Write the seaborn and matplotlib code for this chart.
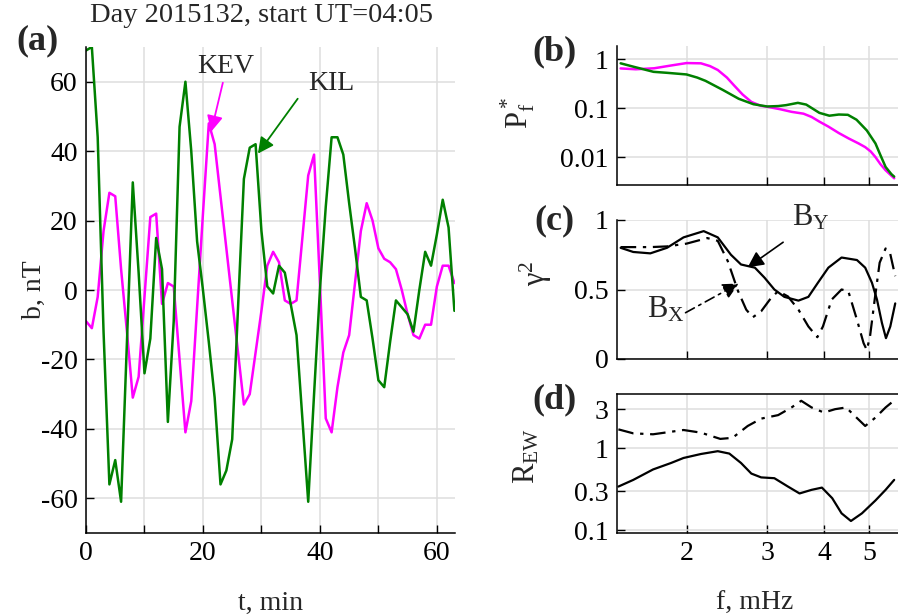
import numpy as np
import pandas as pd
import matplotlib
matplotlib.use("Agg")
import matplotlib.pyplot as plt
import seaborn as sns
from matplotlib.ticker import NullLocator

# ---- panel (a): time series, 1-min samples ----
t_min = list(range(64))
kev = [-9, -11, -2, 17, 28, 27, 6, -12, -31, -25, -2, 21, 22, -4, 2, 1,
       -20, -41, -32, -5, 22, 48, 42, 27, 12, -3, -18, -33, -30, -18, -6, 7,
       11, 8, -3, -4, -3, 15, 33, 39, 2, -37, -41, -28, -18, -13, 2, 17,
       25, 20, 12, 9, 8, 6, 0, -7, -13, -14, -10, -10, 1, 7, 7, 2]
kil = [69, 70, 44, -12, -56, -49, -61, -15, 31, 5, -24, -14, 15, 6, -38, -9,
       47, 60, 40, 14, 0, -15, -31, -56, -52, -43, -5, 32, 41, 42, 17, 1,
       -1, 7, 5, -4, -13, -37, -61, -30, 0, 24, 44, 44, 39, 25, 12, -2,
       -3, -14, -26, -28, -15, -3, -5, -7, -12, 0, 11, 7, 16, 26, 18, -6]

# ---- panel (b): normalised spectra ----
f_kil = [1.436, 1.531, 1.694, 1.813, 2.0, 2.11, 2.2, 2.4, 2.6, 2.8, 3.0, 3.17,
         3.3, 3.5, 3.65, 3.9, 4.1, 4.3, 4.5, 4.7, 4.95, 5.17, 5.3, 5.44, 5.6,
         5.68]
p_kil = [0.82, 0.70, 0.55, 0.525, 0.486, 0.42, 0.36, 0.235, 0.155, 0.12, 0.108,
         0.11, 0.115, 0.128, 0.118, 0.08, 0.07, 0.074, 0.073, 0.058, 0.035,
         0.019, 0.011, 0.0063, 0.0045, 0.0040]
f_kev = [1.436, 1.55, 1.7, 1.85, 2.0, 2.15, 2.25, 2.34, 2.45, 2.54, 2.65, 2.77,
         2.9, 3.01, 3.2, 3.39, 3.6, 3.75, 3.9, 4.08, 4.3, 4.52, 4.75, 4.91,
         5.05, 5.17, 5.3, 5.44, 5.68]
p_kev = [0.645, 0.62, 0.65, 0.74, 0.83, 0.82, 0.72, 0.60, 0.42, 0.29, 0.19,
         0.134, 0.112, 0.106, 0.095, 0.084, 0.077, 0.066, 0.053, 0.042, 0.031,
         0.024, 0.019, 0.016, 0.013, 0.010, 0.0072, 0.0054, 0.0037]

# ---- panel (c): coherence ----
f_by = [1.436, 1.53, 1.667, 1.813, 1.97, 2.18, 2.34, 2.50, 2.63, 2.82, 2.96,
        3.11, 3.27, 3.51, 3.69, 3.87, 4.08, 4.36, 4.71, 4.91, 5.08, 5.21,
        5.34, 5.45, 5.57, 5.71]
coh_by = [0.80, 0.77, 0.76, 0.80, 0.875, 0.92, 0.875, 0.75, 0.68, 0.657,
          0.585, 0.50, 0.447, 0.42, 0.447, 0.548, 0.657, 0.73, 0.712, 0.657,
          0.548, 0.427, 0.26, 0.15, 0.234, 0.40]
f_bx = [1.436, 1.667, 1.813, 2.0, 2.22, 2.34, 2.46, 2.59, 2.70, 2.79, 2.91,
        3.06, 3.17, 3.33, 3.51, 3.69, 3.86, 3.97, 4.15, 4.36, 4.51, 4.71,
        4.87, 4.95, 5.03, 5.15, 5.28, 5.44, 5.56, 5.71]
coh_bx = [0.805, 0.805, 0.81, 0.83, 0.87, 0.85, 0.705, 0.49, 0.355, 0.30,
          0.343, 0.44, 0.488, 0.45, 0.355, 0.234, 0.157, 0.234, 0.428, 0.50,
          0.488, 0.283, 0.114, 0.065, 0.162, 0.428, 0.693, 0.795, 0.766, 0.596]

# ---- panel (d): E/W amplitude ratio ----
f_rx = [1.42, 1.53, 1.69, 1.97, 2.15, 2.37, 2.52, 2.72, 2.91, 3.17, 3.39,
        3.56, 3.75, 3.99, 4.22, 4.46, 4.66, 4.91, 5.17, 5.44, 5.73]
r_x = [1.70, 1.52, 1.48, 1.67, 1.55, 1.30, 1.34, 1.87, 2.3, 2.54, 3.15, 3.8,
       3.15, 2.73, 3.0, 3.15, 2.48, 1.87, 2.37, 3.15, 4.0]
f_ry = [1.42, 1.53, 1.69, 1.85, 1.97, 2.15, 2.34, 2.48, 2.63, 2.77, 2.91, 3.11,
        3.33, 3.53, 3.75, 3.95, 4.16, 4.36, 4.57, 4.83, 5.17, 5.44, 5.68]
r_y = [0.34, 0.41, 0.55, 0.66, 0.76, 0.85, 0.92, 0.86, 0.66, 0.49, 0.44, 0.43,
       0.34, 0.28, 0.31, 0.33, 0.245, 0.16, 0.129, 0.16, 0.23, 0.31, 0.41]

sns.set_theme(style="ticks")
plt.rcParams["font.family"] = ["Liberation Serif", "DejaVu Serif"]
plt.rcParams["mathtext.fontset"] = "custom"
plt.rcParams["mathtext.rm"] = "Liberation Serif"
plt.rcParams["mathtext.it"] = "Liberation Serif:italic"
plt.rcParams["axes.unicode_minus"] = False

FS = 20
MAG = "#ff00ff"
GRN = "#008000"
GRID = "#dedede"
DASHDOT = (0, (7, 3, 1.5, 3))

W, H = 898, 616
fig = plt.figure(figsize=(W / 100, H / 100), dpi=100)


def px_axes(x0, y0, x1, y1):
    """axes from pixel box (left, top, right, bottom)"""
    return fig.add_axes([x0 / W, 1 - y1 / H, (x1 - x0) / W, (y1 - y0) / H])


def style(ax):
    ax.grid(True, color=GRID, linewidth=1.1)
    ax.set_axisbelow(True)
    ax.tick_params(direction="in", length=6, width=1, labelsize=FS, pad=6,
                   colors="black")
    for s in ["left", "bottom"]:
        ax.spines[s].set_linewidth(1.1)
        ax.spines[s].set_color("black")
    ax.spines["top"].set_visible(False)
    ax.spines["right"].set_visible(False)
    ax.set_facecolor("white")


# ---------------- (a) ----------------
ax = px_axes(86, 47, 455, 533)
df_a = pd.DataFrame({"t": t_min, "KEV": kev, "KIL": kil})
sns.lineplot(data=df_a, x="t", y="KEV", ax=ax, color=MAG, linewidth=1.8)
sns.lineplot(data=df_a, x="t", y="KIL", ax=ax, color=GRN, linewidth=1.8)
style(ax)
ax.set_xlim(0, 63.1)
ax.set_ylim(-70, 70)
ax.set_xticks(range(0, 61, 10))
ax.set_xticklabels(["0", "", "20", "", "40", "", "60"])
ax.set_yticks(range(-60, 61, 20))
ax.set_xlabel("t, min", fontsize=FS)
ax.set_ylabel("b, nT", fontsize=FS)
ax.yaxis.set_label_coords(-0.105, 0.5)
ax.xaxis.set_label_coords(0.5, -0.12)
ax.text(23.9, 64.3, "KEV", fontsize=FS, ha="center", va="center")
ax.annotate("", xy=(21.4, 45.6), xytext=(23.4, 59.7),
            arrowprops=dict(arrowstyle="-|>", color=MAG, lw=1.3,
                            mutation_scale=24, shrinkA=0, shrinkB=0))
ax.text(41.9, 59.4, "KIL", fontsize=FS, ha="center", va="center")
ax.annotate("", xy=(29.4, 39.3), xytext=(36.2, 55.1),
            arrowprops=dict(arrowstyle="-|>", color=GRN, lw=1.3,
                            mutation_scale=24, shrinkA=0, shrinkB=0))
fig.text(261 / W, 1 - 16 / H, "Day 2015132, start UT=04:05", fontsize=20.5,
         ha="center", va="center")
fig.text(37 / W, 1 - 41 / H, "(a)", fontsize=26, fontweight="bold",
         ha="center", va="center")

# ---------------- right column ----------------
XL = (1.41, 5.79)


def freq_axis(ax, labels):
    ax.set_xscale("log")
    ax.set_xlim(*XL)
    ax.set_xticks([2, 3, 4, 5])
    ax.set_xticklabels(["2", "3", "4", "5"] if labels else ["", "", "", ""])
    ax.xaxis.set_minor_locator(NullLocator())


# (b)
axb = px_axes(617, 46, 898, 185)
df_b1 = pd.DataFrame({"f": f_kev, "p": p_kev})
df_b2 = pd.DataFrame({"f": f_kil, "p": p_kil})
sns.lineplot(data=df_b1, x="f", y="p", ax=axb, color=MAG, linewidth=1.8)
sns.lineplot(data=df_b2, x="f", y="p", ax=axb, color=GRN, linewidth=1.8)
style(axb)
freq_axis(axb, False)
axb.set_yscale("log")
axb.set_ylim(0.0027, 1.85)
axb.set_yticks([0.01, 0.1, 1])
axb.set_yticklabels(["0.01", "0.1", "1"])
axb.yaxis.set_minor_locator(NullLocator())
axb.set_xlabel("")
axb.set_ylabel(r"$\mathrm{P^*_f}$", fontsize=FS + 2)
axb.yaxis.set_label_coords(-0.285, 0.52)

# (c)
axc = px_axes(617, 220, 898, 359)
df_c1 = pd.DataFrame({"f": f_by, "g": coh_by})
df_c2 = pd.DataFrame({"f": f_bx, "g": coh_bx})
sns.lineplot(data=df_c1, x="f", y="g", ax=axc, color="black", linewidth=1.6)
sns.lineplot(data=df_c2, x="f", y="g", ax=axc, color="black", linewidth=1.6,
             linestyle=DASHDOT)
style(axc)
freq_axis(axc, False)
axc.set_ylim(0, 1)
axc.set_yticks([0, 0.5, 1])
axc.set_yticklabels(["0", "0.5", "1"])
axc.set_xlabel("")
axc.set_ylabel(r"$\mathrm{\gamma^2}$", fontsize=FS + 2)
axc.yaxis.set_label_coords(-0.225, 0.62)
axc.text(3.39, 0.957, r"$\mathrm{B_Y}$", fontsize=FS + 2, ha="left",
         va="baseline")
axc.annotate("", xy=(2.72, 0.66), xytext=(3.25, 0.84),
             arrowprops=dict(arrowstyle="-|>", color="black", lw=1.2,
                             mutation_scale=24, shrinkA=0, shrinkB=0))
axc.text(1.64, 0.297, r"$\mathrm{B_X}$", fontsize=FS + 2, ha="left",
         va="baseline")
axc.annotate("", xy=(2.60, 0.543), xytext=(1.99, 0.333),
             arrowprops=dict(arrowstyle="-|>", color="black", lw=1.2,
                             linestyle=(0, (6, 3, 1.5, 3)),
                             mutation_scale=24, shrinkA=0, shrinkB=0))

# (d)
axd = px_axes(617, 394, 898, 533)
df_d1 = pd.DataFrame({"f": f_rx, "r": r_x})
df_d2 = pd.DataFrame({"f": f_ry, "r": r_y})
sns.lineplot(data=df_d1, x="f", y="r", ax=axd, color="black", linewidth=1.6,
             linestyle=DASHDOT)
sns.lineplot(data=df_d2, x="f", y="r", ax=axd, color="black", linewidth=1.6)
style(axd)
axd.spines["top"].set_visible(True)
axd.spines["top"].set_linewidth(1.1)
axd.spines["top"].set_color("black")
freq_axis(axd, True)
axd.set_yscale("log")
axd.set_ylim(0.092, 4.6)
axd.set_yticks([0.1, 0.3, 1, 3])
axd.set_yticklabels(["0.1", "0.3", "1", "3"])
axd.yaxis.set_minor_locator(NullLocator())
axd.set_xlabel("f, mHz", fontsize=FS)
axd.xaxis.set_label_coords(0.49, -0.42)
axd.set_ylabel(r"$\mathrm{R_{EW}}$", fontsize=FS + 2)
axd.yaxis.set_label_coords(-0.27, 0.55)

for lbl, yc in [("(b)", 52), ("(c)", 221), ("(d)", 400)]:
    fig.text(554 / W, 1 - yc / H, lbl, fontsize=26, fontweight="bold",
             ha="center", va="center")

fig.savefig("out.png", dpi=100, facecolor="white")
